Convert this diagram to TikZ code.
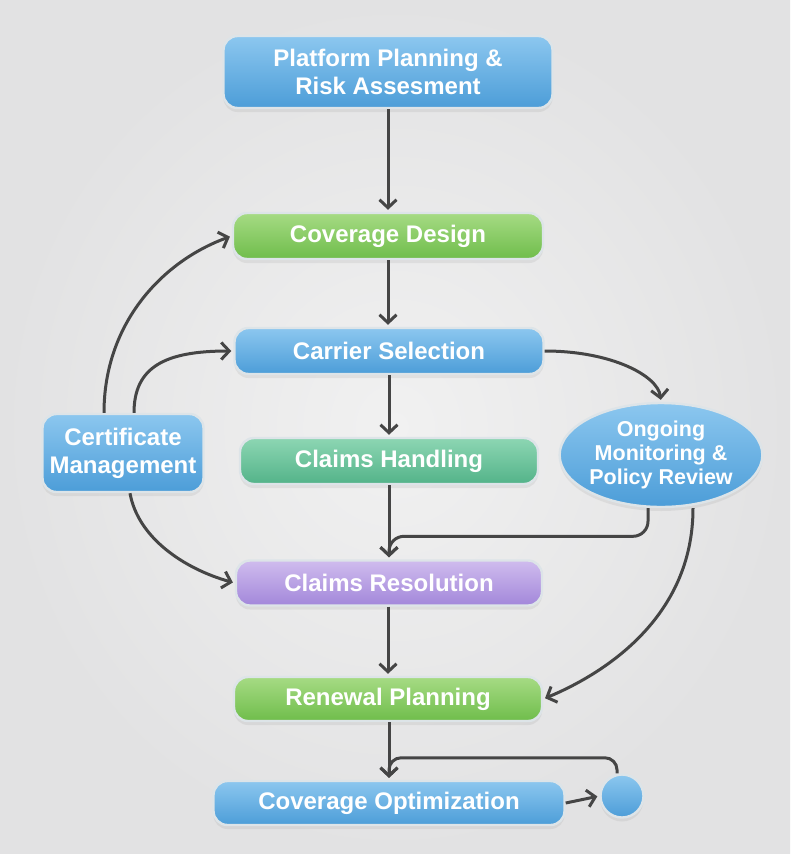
\documentclass[tikz,border=0pt]{standalone}
\usepackage{fontspec}
\setmainfont{Liberation Sans}
\usetikzlibrary{arrows.meta,shapes.geometric,shadows,calc}
\definecolor{blueT}{HTML}{8CC7EF}
\definecolor{blueB}{HTML}{4C9DD8}
\definecolor{greenT}{HTML}{A6DB84}
\definecolor{greenB}{HTML}{6FBD4B}
\definecolor{tealT}{HTML}{8DD6B3}
\definecolor{tealB}{HTML}{53B389}
\definecolor{purpT}{HTML}{D0BCEE}
\definecolor{purpB}{HTML}{A287DA}
\definecolor{haloC}{HTML}{DDE4E8}
\definecolor{lineC}{HTML}{454545}
\definecolor{bgIn}{HTML}{F1F1F1}
\definecolor{bgOut}{HTML}{E2E2E3}
\begin{document}
\begin{tikzpicture}[x=1pt,y=-1pt,
  base/.style={draw=haloC, line width=2.4pt, text=white, align=center, inner sep=0pt,
    font=\fontsize{24}{28}\selectfont\bfseries,
    drop shadow={opacity=0.13, shadow xshift=0pt, shadow yshift=-4pt}},
  box/.style={base, rounded corners=14pt},
  bluebox/.style={box, top color=blueT, bottom color=blueB},
  greenbox/.style={box, top color=greenT, bottom color=greenB},
  tealbox/.style={box, top color=tealT, bottom color=tealB},
  purpbox/.style={box, top color=purpT, bottom color=purpB},
  conn/.style={draw=lineC, line width=3pt, shorten >=2pt,
    -{Straight Barb[length=8pt,width=17pt]}}
]
\shade[inner color=bgIn, outer color=bgOut] (0,0) rectangle (790,854);
\useasboundingbox (0,0) rectangle (790,854);

\node[bluebox, minimum width=329pt, minimum height=72pt] (plat) at (388,72) {Platform Planning \&\\Risk Assesment};
\node[greenbox, minimum width=310pt, minimum height=46pt] (cdes) at (388,236) {Coverage Design};
\node[bluebox, minimum width=309pt, minimum height=46pt] (carr) at (389,351) {Carrier Selection};
\node[tealbox, minimum width=298pt, minimum height=46pt] (chand) at (389,461) {Claims Handling};
\node[purpbox, minimum width=306pt, minimum height=45pt] (cres) at (389,583) {Claims Resolution};
\node[greenbox, minimum width=308pt, minimum height=44pt] (renew) at (388,699) {Renewal Planning};
\node[bluebox, minimum width=351pt, minimum height=44pt] (copt) at (389,803) {Coverage Optimization};
\node[bluebox, minimum width=161pt, minimum height=78pt] (cert) at (123,453) {Certificate\\Management};
\node[base, ellipse, top color=blueT, bottom color=blueB, minimum width=160pt, minimum height=104pt,
  font=\fontsize{21.5}{24}\selectfont\bfseries] (mon) at (661,455) {Ongoing\\Monitoring \&\\Policy Review};
\node[base, circle, top color=blueT, bottom color=blueB, minimum size=43pt] (circ) at (622,796) {};

% main vertical chain
\draw[conn] (plat.south -| cdes.north) -- (cdes.north);
\draw[conn] (cdes.south) -- (cdes.south |- carr.north);
\draw[conn] (carr.south) -- (carr.south |- chand.north);
\draw[conn] (chand.south -| cres.north) -- (cres.north);
\draw[conn] (cres.south -| renew.north) -- (renew.north);
\draw[conn] (renew.south -| copt.north) -- (copt.north);
\draw[conn] (copt.east) -- (circ.west);

% junction from monitoring to claims resolution
\draw[conn, rounded corners=15pt] ([xshift=-13pt]mon.south) |- ($(cres.north)+(0,-23)$) -- (cres.north);
% junction from circle back to coverage optimization
\draw[conn, rounded corners=12pt] ([xshift=-5pt]circ.north) |- ($(copt.north)+(0,-22)$) -- (copt.north);

% certificate management curves
\draw[conn] ([xshift=-19pt]cert.north) .. controls +(0,-90) and +(-69,25) .. (cdes.west);
\draw[conn] ([xshift=11pt]cert.north) .. controls +(0,-46) and +(-68,0) .. (carr.west);
\draw[conn] ([xshift=7pt]cert.south) .. controls +(8,45) and +(-50,-14) .. (cres.west);

% carrier to monitoring, monitoring to renewal
\draw[conn] (carr.east) .. controls +(67,0) and +(-3,-26) .. (mon.north);
\draw[conn] ([xshift=32pt]mon.south) .. controls +(0,110) and +(60,-25) .. (renew.east);
\end{tikzpicture}
\end{document}
